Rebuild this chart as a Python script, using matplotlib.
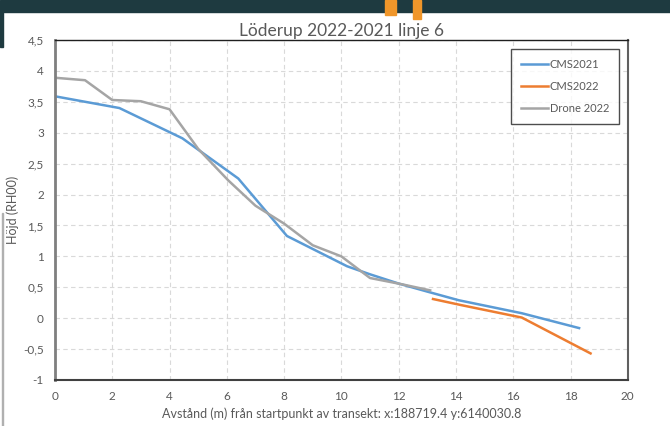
import matplotlib.pyplot as plt
from matplotlib.patches import Rectangle
from matplotlib.ticker import FuncFormatter

cms2021_x = [0, 2.25, 4.45, 6.4, 8.1, 10.2, 11.0, 12.0, 13.0, 14.1, 16.3, 18.3]
cms2021_y = [3.59, 3.40, 2.91, 2.26, 1.33, 0.84, 0.71, 0.56, 0.43, 0.29, 0.08, -0.16]

cms2022_x = [13.2, 14.2, 16.3, 18.7]
cms2022_y = [0.31, 0.21, 0.01, -0.57]

drone_x = [0, 1.05, 2.0, 3.0, 4.0, 5.0, 6.05, 7.0, 8.0, 9.0, 10.0, 11.0, 12.1, 13.1]
drone_y = [3.89, 3.85, 3.53, 3.51, 3.38, 2.74, 2.23, 1.82, 1.53, 1.18, 1.00, 0.65, 0.55, 0.45]

title = "Löderup 2022-2021 linje 6"
xlabel = "Avstånd (m) från startpunkt av transekt: x:188719.4 y:6140030.8"
ylabel = "Höjd (RH00)"

plt.rcParams['font.family'] = ['Lato', 'DejaVu Sans']
txt = '#595959'

fig = plt.figure(figsize=(6.7, 4.26), dpi=100)
# screenshot frame bits
fig.patches.append(Rectangle((0, 0.972), 1, 0.028, transform=fig.transFigure,
                             color='#1e3a40', zorder=0))
fig.patches.append(Rectangle((0, 0.89), 0.005, 0.09, transform=fig.transFigure,
                             color='#1e3a40', zorder=0))
fig.patches.append(Rectangle((0.003, 0), 0.002, 0.5, transform=fig.transFigure,
                             color='#b0b0b0', zorder=0))
fig.patches.append(Rectangle((0.575, 0.965), 0.016, 0.035, transform=fig.transFigure,
                             color='#f0962a', zorder=1))
fig.patches.append(Rectangle((0.617, 0.955), 0.012, 0.045, transform=fig.transFigure,
                             color='#f0962a', zorder=1))

ax = fig.add_axes([0.082, 0.108, 0.855, 0.798])
ax.plot(cms2021_x, cms2021_y, color='#5b9bd5', lw=1.8, label='CMS2021')
ax.plot(cms2022_x, cms2022_y, color='#ed7d31', lw=1.8, label='CMS2022')
ax.plot(drone_x, drone_y, color='#a5a5a5', lw=1.8, label='Drone 2022')

ax.set_xlim(0, 20)
ax.set_ylim(-1, 4.5)
ax.set_xticks(range(0, 21, 2))
ax.set_yticks([-1 + 0.5 * i for i in range(12)])
ax.yaxis.set_major_formatter(FuncFormatter(lambda v, p: f'{v:g}'.replace('.', ',')))
ax.grid(True, ls=(0, (4, 3)), color='#d9d9d9', lw=0.8)
ax.tick_params(length=0, labelsize=8.5, labelcolor=txt, pad=8)

ax.spines['left'].set_color('#7f7f7f')
ax.spines['left'].set_linewidth(2)
ax.spines['bottom'].set_color('#404040')
ax.spines['bottom'].set_linewidth(1.5)
ax.spines['top'].set_color('#202020')
ax.spines['top'].set_linewidth(1)
ax.spines['right'].set_color('#606060')
ax.spines['right'].set_linewidth(1.5)

ax.set_title(title, color=txt, fontsize=12.5, pad=3)
ax.set_xlabel(xlabel, color=txt, fontsize=9, labelpad=4)
ax.set_ylabel(ylabel, color=txt, fontsize=9, labelpad=3)

leg = ax.legend(loc='upper right', bbox_to_anchor=(0.985, 0.975), fontsize=8,
                frameon=True, fancybox=False, edgecolor='#202020',
                labelcolor=txt, handlelength=2.4, borderpad=0.9, labelspacing=1.0,
                handletextpad=0.2, borderaxespad=0)
leg.get_frame().set_linewidth(1)

fig.savefig('out.png', dpi=100)
